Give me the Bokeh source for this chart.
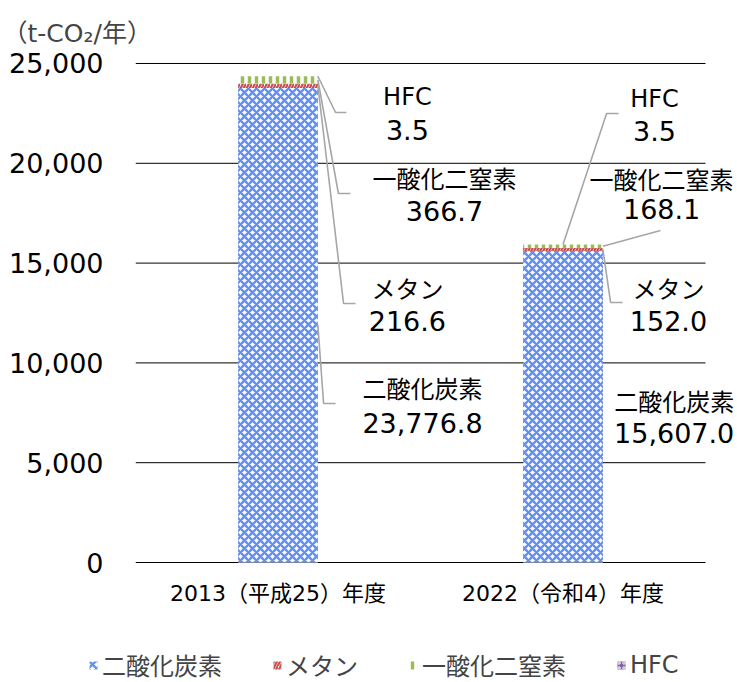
from bokeh.plotting import figure
from bokeh.layouts import column
from bokeh.models import Range1d, FixedTicker, NumeralTickFormatter, Legend, LegendItem
from bokeh.core.properties import value
from bokeh.embed import file_html
from bokeh.resources import INLINE

# ---------------- data ----------------
years = ["2013（平成25）年度", "2022（令和4）年度"]
gases = ["二酸化炭素", "メタン", "一酸化二窒素", "HFC"]
co2 = [23776.8, 15607.0]
ch4 = [216.6, 152.0]
n2o = [366.7, 168.1]
hfc = [3.5, 3.5]
y_ticks = [0, 5000, 10000, 15000, 20000, 25000]
unit_label = "（t-CO₂/年）"

# ---------------- styles / layout ----------------
MIX = "DejaVu Sans, Noto Sans CJK JP"
LAT = "DejaVu Sans"
BAR_W = 0.28
fills = ["white", "white", "white", "#8064a2"]
hatches = ["diagonal_cross", "right_diagonal_line", "vertical_line", "ring"]
hatch_colors = ["#6390f5", "#c9504d", "#9bbb59", "white"]
hatch_scales = [8, 6, 7, 5]
hatch_weights = [2.4, 2.2, 3.5, 1]

# label layout per bar, per gas: (dx from bar centre, y of name line, y of value line)
label_pos = [
    [(0.507, 8667, 7014), (0.454, 13677, 12124), (0.584, 19188, 17635), (0.454, 23297, 21693)],
    [(0.390, 8016, 6513), (0.370, 13677, 12124), (0.346, 19138, 17735), (0.321, 23246, 21643)],
]
# leader lines per bar, per gas: (start kind, elbow dx, elbow y, end dx) or None
leaders = [
    [("edge", 0.160, 7966, 0.202), ("edge", 0.230, 12976, 0.272),
     ("edge", 0.212, 18487, 0.254), ("edge", 0.202, 22545, 0.240)],
    [None, ("edge", 0.167, 13026, 0.209),
     ("edge", 0.342, 16633, 0.342), ("top", 0.153, 22495, 0.195)],
]

series = [co2, ch4, n2o, hfc]
xpos = [i + 0.5 for i in range(len(years))]
data = {"x": xpos}
for g, s in zip(gases, series):
    data[g] = s

p = figure(width=737, height=650,
           x_range=Range1d(0, 602 / 285), y_range=Range1d(-100, 25100),
           output_backend="svg", toolbar_location=None,
           min_border_left=135, min_border_right=0, min_border_top=61, min_border_bottom=86)
p.outline_line_color = None
p.background_fill_color = "white"
p.xgrid.grid_line_color = None
p.ygrid.grid_line_color = None

# horizontal gridlines across the category span
p.segment(x0=[0] * len(y_ticks), x1=[len(years)] * len(y_ticks), y0=y_ticks, y1=y_ticks,
          line_color="#000000", line_width=1)

rs = p.vbar_stack(gases, x="x", width=BAR_W, source=data,
                  fill_color=fills, line_color=None,
                  hatch_pattern=hatches, hatch_color=hatch_colors,
                  hatch_scale=hatch_scales, hatch_weight=hatch_weights)

# labels and leader lines, derived from the data values
name_x, name_y, name_t = [], [], []
val_x, val_y, val_t = [], [], []
lxs, lys = [], []
for b in range(len(years)):
    centre = xpos[b]
    cum = 0.0
    top = sum(s[b] for s in series)
    for g, s in enumerate(series):
        lo, hi = cum, cum + s[b]
        cum = hi
        mid = (lo + hi) / 2
        dx, yn, yv = label_pos[b][g]
        name_x.append(centre + dx); name_y.append(yn); name_t.append(gases[g])
        val_x.append(centre + dx); val_y.append(yv); val_t.append(f"{s[b]:,.1f}")
        ld = leaders[b][g]
        if ld is not None:
            kind, ex, ey, endx = ld
            if kind == "edge":
                sx, sy = centre + BAR_W / 2, mid
            else:
                sx, sy = centre, top
            lxs.append([sx, centre + ex, centre + endx])
            lys.append([sy, ey, ey])

p.multi_line(lxs, lys, line_color="#a6a6a6", line_width=1.6)
p.text(name_x, name_y, text=name_t, text_font=value(MIX), text_font_size="24px",
       text_align="center", text_baseline="middle", text_color="#000000")
p.text(val_x, val_y, text=val_t, text_font=value(LAT), text_font_size="27px",
       text_align="center", text_baseline="middle", text_color="#000000")

# axes
p.yaxis.ticker = FixedTicker(ticks=y_ticks)
p.yaxis.formatter = NumeralTickFormatter(format="0,0")
p.xaxis.ticker = FixedTicker(ticks=xpos)
p.xaxis.major_label_overrides = {x: y for x, y in zip(xpos, years)}
for ax in (p.xaxis[0], p.yaxis[0]):
    ax.axis_line_color = None
    ax.major_tick_line_color = None
    ax.minor_tick_line_color = None
    ax.major_label_text_color = "#000000"
p.yaxis.major_label_text_font = LAT
p.yaxis.major_label_text_font_size = "27px"
p.yaxis.major_label_standoff = 26
p.xaxis.major_label_text_font = MIX
p.xaxis.major_label_text_font_size = "22px"
p.xaxis.major_label_standoff = 10

# unit label
p.title.text = unit_label
p.title.text_font = MIX
p.title.text_font_size = "25px"
p.title.text_font_style = "normal"
p.title.align = "left"
p.title.offset = -133
p.title.standoff = 27

# legend strip below the chart
q = figure(width=737, height=32, x_range=(0, 1), y_range=(0, 1),
           output_backend="svg", toolbar_location=None,
           x_axis_location=None, y_axis_location=None,
           min_border_left=0, min_border_right=0, min_border_top=0, min_border_bottom=0)
q.outline_line_color = None
q.xgrid.grid_line_color = None
q.ygrid.grid_line_color = None
aligned = True
if "frame_align" in q.properties():
    q.frame_align = False
    aligned = False
proxies = []
for i in range(len(gases)):
    # off-range proxy renderers that only serve as legend swatches
    proxies.append(q.vbar(x=[-5], top=[-5], width=0.1, fill_color=fills[i], line_color=None,
                          hatch_pattern=hatches[i], hatch_color=hatch_colors[i],
                          hatch_scale=hatch_scales[i], hatch_weight=hatch_weights[i]))
legend = Legend(items=[LegendItem(label=g, renderers=[r]) for g, r in zip(gases, proxies)],
                orientation="horizontal", location=(88 - (135 if aligned else 0), 0),
                glyph_width=10, glyph_height=10, label_standoff=4, spacing=50,
                padding=0, margin=0, border_line_color=None, background_fill_alpha=0,
                label_text_font=MIX, label_text_font_size="24px", label_height=28)
q.add_layout(legend, "center")

open("out.html", "w").write(file_html(column(p, q), INLINE))
